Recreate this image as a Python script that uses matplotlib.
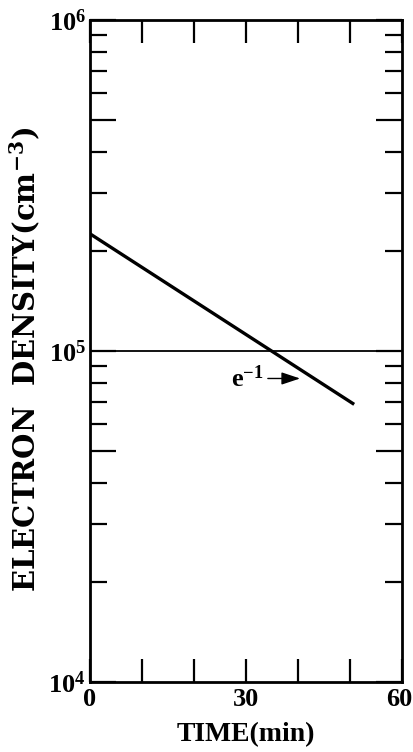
import matplotlib
matplotlib.use("Agg")
import matplotlib.pyplot as plt
from matplotlib.ticker import FixedLocator, NullFormatter
from matplotlib.transforms import ScaledTranslation

# ---- data ----
time_min = [0.0, 50.8]
electron_density = [2.26e5, 6.9e4]
e_fold_level = 1.0e5
x_tick_values = [0, 10, 20, 30, 40, 50, 60]
x_tick_labels = ["0", "", "", "30", "", "", "60"]
y_major_values = [1e4, 5e4, 1e5, 5e5, 1e6]
y_major_labels = [r"$\mathregular{10^4}$", "", r"$\mathregular{10^5}$", "", r"$\mathregular{10^6}$"]
y_minor_values = [m * d for d in (1e4, 1e5) for m in (2, 3, 4, 6, 7, 8, 9)]
annot_text = r"e$^{-1}$"
annot_x_tip, annot_x_text, annot_y = 40.4, 33.4, 8.26e4

plt.rcParams["font.family"] = ["Liberation Serif", "DejaVu Serif"]
plt.rcParams["font.weight"] = "bold"
plt.rcParams["mathtext.fontset"] = "custom"
plt.rcParams["mathtext.rm"] = "Liberation Serif:bold"
plt.rcParams["mathtext.it"] = "Liberation Serif:bold"
plt.rcParams["mathtext.bf"] = "Liberation Serif:bold"
plt.rcParams["mathtext.default"] = "regular"

fig = plt.figure(figsize=(4.14, 7.52), dpi=100)
ax = fig.add_axes([90 / 414, 1 - 682 / 752, 312 / 414, 662 / 752])

ax.plot(time_min, electron_density, color="black", lw=2.4, solid_capstyle="butt")
ax.axhline(e_fold_level, color="black", lw=1.3)

ax.set_yscale("log")
ax.set_xlim(0, 60)
ax.set_ylim(1e4, 1e6)

ax.xaxis.set_major_locator(FixedLocator(x_tick_values))
ax.set_xticklabels(x_tick_labels)
ax.yaxis.set_major_locator(FixedLocator(y_major_values))
ax.set_yticklabels(y_major_labels)
ax.yaxis.set_minor_locator(FixedLocator(y_minor_values))
ax.yaxis.set_minor_formatter(NullFormatter())

ax.tick_params(axis="x", which="major", direction="in", length=16.5, width=1.6,
               top=True, bottom=True, labelsize=19, pad=4)
ax.tick_params(axis="y", which="major", direction="in", length=19, width=1.6,
               left=True, right=True, labelsize=19, pad=3)
ax.tick_params(axis="y", which="minor", direction="in", length=12, width=1.6,
               left=True, right=True)

for s in ax.spines.values():
    s.set_linewidth(2.0)

# nudge the last x tick label slightly left so it stays inside the figure
last = ax.get_xticklabels()[-1]
last.set_transform(last.get_transform() + ScaledTranslation(-3 / 100, 0, fig.dpi_scale_trans))

ax.set_xlabel("TIME(min)", fontsize=20, fontweight="bold", labelpad=8)
ax.set_ylabel(r"ELECTRON  DENSITY(cm$^{-3}$)", fontsize=21,
              family=["DejaVu Serif"], fontweight="bold")
ax.yaxis.set_label_coords((42 - 90) / 312, (682 - 359) / 662)

ax.annotate(annot_text, xy=(annot_x_tip, annot_y), xytext=(annot_x_text, annot_y),
            ha="right", va="center", fontsize=19,
            arrowprops=dict(arrowstyle="-|>,head_length=0.6,head_width=0.2",
                            color="black", lw=1.0, shrinkA=1, shrinkB=0))

fig.savefig("out.png", dpi=100)
